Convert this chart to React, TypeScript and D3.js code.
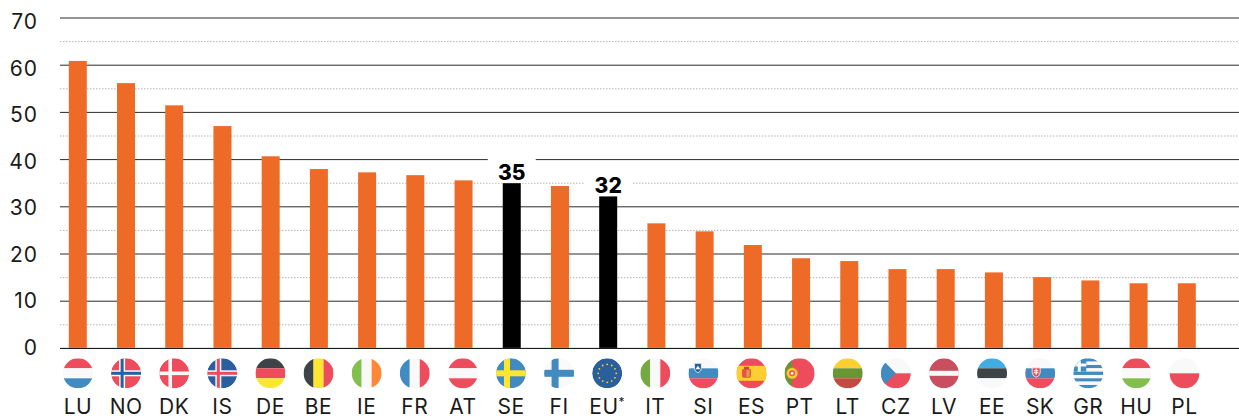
import React from "react";
import * as d3 from "d3";

const countries = ["LU", "NO", "DK", "IS", "DE", "BE", "IE", "FR", "AT", "SE", "FI", "EU", "IT", "SI", "ES", "PT", "LT", "CZ", "LV", "EE", "SK", "GR", "HU", "PL"];
const shares = [60.9, 56.2, 51.5, 47.1, 40.7, 38, 37.3, 36.7, 35.6, 35, 34.4, 32.2, 26.5, 24.8, 21.9, 19.1, 18.5, 16.8, 16.8, 16.1, 15.1, 14.4, 13.8, 13.8];
const highlighted = ["SE", "EU"];
const highlightLabels = { SE: "35", EU: "32" };
const majorTicks = [0, 10, 20, 30, 40, 50, 60, 70];
const minorTicks = [5, 15, 25, 35, 45, 55, 65];

const FONT = "Inter, 'Noto Sans', sans-serif";
const ORANGE = "#ee6a27";
const RED = "#ed4c5c";
const BLUE = "#428bc1";
const NAVY = "#2a5f9e";
const WHITE = "#f9f9f9";
const DARK = "#3e4347";
const YELLOW = "#ffe62e";
const GREEN = "#83bf4f";

const width = 1239;
const height = 416;

const y = d3.scaleLinear().domain([0, 70]).range([348.4, 18]);
const yLabel = d3.scaleLinear().domain([0, 70]).range([355, 29]);
const xBar = d3.scalePoint().domain(countries).range([77.8, 1186.8]);
const xFlag = d3.scalePoint().domain(countries).range([78, 1184.5]);
const BAR_W = 18;

// flag stripes in the local -15..15 circle box
const HBands = ({ colors }) => {
  const s = d3.scaleBand().domain(d3.range(colors.length)).range([-15, 15]);
  return <>{colors.map((c, i) => <rect key={i} x={-15} y={s(i)} width={30} height={s.bandwidth()} fill={c} />)}</>;
};
const VBands = ({ colors }) => {
  const s = d3.scaleBand().domain(d3.range(colors.length)).range([-15, 15]);
  return <>{colors.map((c, i) => <rect key={i} x={s(i)} y={-15} width={s.bandwidth()} height={30} fill={c} />)}</>;
};
const Cross = ({ color, w }) => (
  <>
    <rect x={-4 - w / 2} y={-15} width={w} height={30} fill={color} />
    <rect x={-15} y={-w / 2} width={30} height={w} fill={color} />
  </>
);
const Crest = ({ cx, cy }) => (
  <g>
    <path d={`M${cx - 4},${cy - 4.5}h8v5q0,3 -4,4.5q-4,-1.500 -4,-4.500z`} fill={RED} stroke={WHITE} strokeWidth={0.8} />
    <path d={`M${cx - 0.6},${cy - 3.5}h1.200v6h-1.200zM${cx - 2},${cy - 2}h4v1h-4zM${cx - 2.500},${cy}h5v1h-5z`} fill={WHITE} />
  </g>
);

const flags = {
  LU: () => <HBands colors={[RED, WHITE, BLUE]} />,
  NO: () => (
    <>
      <circle r={15} fill={RED} />
      <Cross color={WHITE} w={6} />
      <Cross color={NAVY} w={3} />
    </>
  ),
  DK: () => (
    <>
      <circle r={15} fill={RED} />
      <Cross color={WHITE} w={3.6} />
    </>
  ),
  IS: () => (
    <>
      <circle r={15} fill={NAVY} />
      <Cross color={WHITE} w={6} />
      <Cross color={RED} w={3} />
    </>
  ),
  DE: () => <HBands colors={[DARK, RED, YELLOW]} />,
  BE: () => <VBands colors={[DARK, YELLOW, RED]} />,
  IE: () => <VBands colors={[GREEN, WHITE, "#ff8736"]} />,
  FR: () => <VBands colors={[BLUE, WHITE, RED]} />,
  AT: () => <HBands colors={[RED, WHITE, RED]} />,
  SE: () => (
    <>
      <circle r={15} fill={BLUE} />
      <Cross color={YELLOW} w={6} />
    </>
  ),
  FI: () => (
    <>
      <circle r={15} fill={WHITE} />
      <Cross color={BLUE} w={7} />
    </>
  ),
  EU: () => (
    <>
      <circle r={15} fill={NAVY} />
      {d3.range(12).map(i => (
        <circle key={i} cx={9 * Math.cos((i * Math.PI) / 6)} cy={9 * Math.sin((i * Math.PI) / 6)} r={0.9} fill="#ffce31" />
      ))}
    </>
  ),
  IT: () => <VBands colors={["#75a843", WHITE, RED]} />,
  SI: () => (
    <>
      <HBands colors={[WHITE, BLUE, RED]} />
      <path d="M-9,-10h7v5q0,3 -3.500,4.500q-3.500,-1.500 -3.500,-4.500z" fill={NAVY} stroke={WHITE} strokeWidth={0.8} />
      <path d="M-8,-4l2.500,-3.500l2.500,3.500z" fill={WHITE} />
    </>
  ),
  ES: () => (
    <>
      <rect x={-15} y={-15} width={30} height={30} fill={RED} />
      <rect x={-15} y={-7.5} width={30} height={15} fill="#ffce31" />
      <rect x={-9} y={-4} width={8} height={8} rx={1} fill={RED} stroke="#c94737" strokeWidth={0.6} />
      <rect x={-5} y={-3.500} width={3} height={7} fill="#d9a43a" />
      <rect x={-7.500} y={-6.500} width={5} height={2.500} fill="#c94737" />
    </>
  ),
  PT: () => (
    <>
      <rect x={-15} y={-15} width={30} height={30} fill={RED} />
      <rect x={-15} y={-15} width={7.500} height={30} fill="#699635" />
      <circle cx={-7.500} cy={0} r={5.500} fill="#ffce31" stroke="#c9a72c" strokeWidth={0.5} />
      <circle cx={-7.500} cy={0} r={3} fill={RED} />
      <circle cx={-7.500} cy={0} r={1.500} fill={WHITE} />
    </>
  ),
  LT: () => <HBands colors={["#ffce31", "#699635", "#c74843"]} />,
  CZ: () => (
    <>
      <rect x={-15} y={-15} width={30} height={15} fill={WHITE} />
      <rect x={-15} y={0} width={30} height={15} fill={RED} />
      <path d="M-15,-15L0,0L-15,15z" fill={BLUE} />
    </>
  ),
  LV: () => (
    <>
      <circle r={15} fill="#c94f60" />
      <rect x={-15} y={-2.500} width={30} height={5} fill={WHITE} />
    </>
  ),
  EE: () => <HBands colors={["#42ade2", DARK, WHITE]} />,
  SK: () => (
    <>
      <HBands colors={[WHITE, BLUE, RED]} />
      <Crest cx={-4} cy={-1} />
    </>
  ),
  GR: () => (
    <>
      <HBands colors={[BLUE, WHITE, BLUE, WHITE, BLUE, WHITE, BLUE, WHITE, BLUE]} />
      <rect x={-15} y={-15} width={13} height={13.300} fill={BLUE} />
      <rect x={-10.500} y={-15} width={3} height={13.300} fill={WHITE} />
      <rect x={-15} y={-9.800} width={13} height={3} fill={WHITE} />
    </>
  ),
  HU: () => <HBands colors={[RED, WHITE, GREEN]} />,
  PL: () => <HBands colors={[WHITE, RED]} />,
};

export default function App() {
  const data = countries.map((c, i) => ({ country: c, value: shares[i] }));
  return (
    <svg
      width={width}
      height={height}
      style={{ position: "absolute", left: 0, top: 0, background: "#fff", fontFamily: FONT }}
    >
      <defs>
        <clipPath id="flag-clip">
          <circle r={15} />
        </clipPath>
      </defs>

      {minorTicks.map(t => (
        <line key={t} x1={60} x2={width} y1={y(t)} y2={y(t)} stroke="#b5b5b5" strokeWidth={1} strokeDasharray="1.500 1.500" />
      ))}
      {majorTicks.map(t => (
        <line key={t} x1={60} x2={width} y1={y(t)} y2={y(t)} stroke={t === 0 ? "#000" : "#2b2b2b"} strokeWidth={1} />
      ))}
      {majorTicks.map(t => (
        <text key={t} x={38} y={yLabel(t)} textAnchor="end" fontSize={21} letterSpacing={1} fill="#1a1a1a">
          {t}
        </text>
      ))}

      {/* white box behind the two highlighted numbers */}
      {data.filter(d => highlighted.includes(d.country)).map(d => (
        <rect key={d.country} x={xBar(d.country) - 24} y={y(d.value) - 26.500} width={48} height={26} fill="#fff" />
      ))}

      {data.map(d => (
        <rect
          key={d.country}
          x={xBar(d.country) - BAR_W / 2}
          y={y(d.value)}
          width={BAR_W}
          height={y(0) - y(d.value) - 0.500}
          fill={highlighted.includes(d.country) ? "#000" : ORANGE}
        />
      ))}
      {data.filter(d => highlighted.includes(d.country)).map(d => (
        <text key={d.country} x={xBar(d.country)} y={y(d.value) - 3.700} textAnchor="middle" fontSize={21} fontWeight={800} fill="#000">
          {highlightLabels[d.country]}
        </text>
      ))}

      {countries.map(c => {
        const Flag = flags[c];
        return (
          <g key={c} transform={`translate(${xFlag(c)},373.300)`}>
            <g clipPath="url(#flag-clip)">
              <Flag />
            </g>
          </g>
        );
      })}
      {countries.map(c => (
        <text key={c} x={xFlag(c)} y={414} textAnchor="middle" fontSize={21} letterSpacing={0.5} fill="#1a1a1a">
          {c}
          {c === "EU" && <tspan fontSize={12} dy={-8}>*</tspan>}
        </text>
      ))}
    </svg>
  );
}
